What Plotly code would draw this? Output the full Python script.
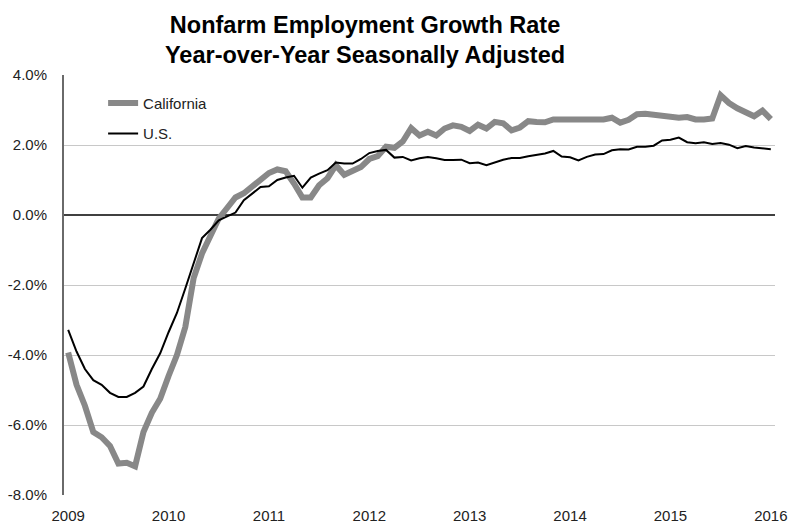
import plotly.graph_objects as go

# Monthly categories Jan 2009 - Jan 2016
months = [f"{y}-{m:02d}" for y in range(2009, 2016) for m in range(1, 13)] + ["2016-01"]

california = [
    -3.93, -4.85, -5.45, -6.20, -6.35, -6.60, -7.10, -7.08, -7.18, -6.20, -5.65, -5.25,
    -4.60, -4.00, -3.20, -1.80, -1.10, -0.60, -0.10, 0.20, 0.50, 0.62, 0.80, 1.00,
    1.20, 1.30, 1.25, 0.90, 0.50, 0.50, 0.85, 1.05, 1.42, 1.15, 1.28, 1.37,
    1.60, 1.68, 1.95, 1.92, 2.10, 2.48, 2.27, 2.38, 2.27, 2.47, 2.56, 2.52,
    2.40, 2.58, 2.47, 2.66, 2.62, 2.42, 2.50, 2.68, 2.66, 2.65, 2.73, 2.73,
    2.72, 2.70, 2.71, 2.71, 2.73, 2.78, 2.64, 2.72, 2.88, 2.89, 2.86, 2.83,
    2.80, 2.78, 2.80, 2.73, 2.73, 2.76, 3.42, 3.20, 3.05, 2.95, 2.82, 2.98,
    2.74,
]

us = [
    -3.28, -3.90, -4.40, -4.72, -4.85, -5.08, -5.20, -5.20, -5.08, -4.90, -4.40, -3.95,
    -3.35, -2.80, -2.10, -1.35, -0.66, -0.42, -0.15, -0.04, 0.07, 0.42, 0.60, 0.80,
    0.82, 1.00, 1.07, 1.12, 0.78, 1.07, 1.18, 1.28, 1.50, 1.47, 1.47, 1.60,
    1.77, 1.83, 1.86, 1.64, 1.66, 1.56, 1.62, 1.66, 1.62, 1.57, 1.57, 1.58,
    1.48, 1.50, 1.42, 1.50, 1.58, 1.63, 1.63, 1.68, 1.71, 1.76, 1.83, 1.67,
    1.65, 1.56, 1.66, 1.73, 1.74, 1.85, 1.88, 1.87, 1.95, 1.95, 1.98, 2.13,
    2.15, 2.21, 2.08, 2.05, 2.08, 2.03, 2.06, 2.01, 1.91, 1.97, 1.93, 1.91,
    1.88,
]

year_ticks = ["2009-01", "2010-01", "2011-01", "2012-01", "2013-01", "2014-01", "2015-01", "2016-01"]
year_labels = ["2009", "2010", "2011", "2012", "2013", "2014", "2015", "2016"]
y_ticks = [-8, -6, -4, -2, 0, 2, 4]
y_labels = ["-8.0%", "-6.0%", "-4.0%", "-2.0%", "0.0%", "2.0%", "4.0%"]

FONT = "Liberation Sans, Arial, sans-serif"

fig = go.Figure()
fig.add_trace(go.Scatter(
    x=months, y=california, mode="lines", name="California",
    line=dict(color="#888888", width=6), legendgroup="ca",
))
fig.add_trace(go.Scatter(
    x=months, y=us, mode="lines", name="U.S.",
    line=dict(color="#000000", width=2), legendgroup="us",
))

fig.update_layout(
    width=791, height=523,
    margin=dict(l=64, r=16, t=75, b=28, autoexpand=False),
    paper_bgcolor="white", plot_bgcolor="white",
    font=dict(family=FONT, color="#222222", size=15),
    title=dict(
        text="<b>Nonfarm Employment Growth Rate<br>Year-over-Year Seasonally Adjusted</b>",
        x=0.4615, xanchor="center", xref="container",
        y=0.937, yanchor="middle", yref="container",
        font=dict(family=FONT, size=23.5, color="#000000"),
    ),
    showlegend=True,
    legend=dict(
        x=0.055, y=0.972, xanchor="left", yanchor="top",
        bgcolor="rgba(0,0,0,0)", font=dict(size=15, color="#222222"),
        tracegroupgap=8, itemwidth=30,
    ),
)

fig.update_xaxes(
    type="category", range=[-0.5, 84.5], automargin=False,
    tickmode="array", tickvals=year_ticks, ticktext=year_labels,
    showgrid=False, showline=False, zeroline=False, ticks="",
    ticklabelstandoff=10, tickfont=dict(size=15, color="#222222"),
)
fig.update_yaxes(
    range=[-8, 4], automargin=False, tickmode="array", tickvals=y_ticks, ticktext=y_labels,
    showgrid=True, gridcolor="#c8c8c8", gridwidth=1,
    zeroline=True, zerolinecolor="#404040", zerolinewidth=1.5,
    showline=True, linecolor="#6a6a6a", linewidth=2,
    ticks="", ticklabelstandoff=12, tickfont=dict(size=15, color="#222222"),
)

fig.write_html("out.html")
